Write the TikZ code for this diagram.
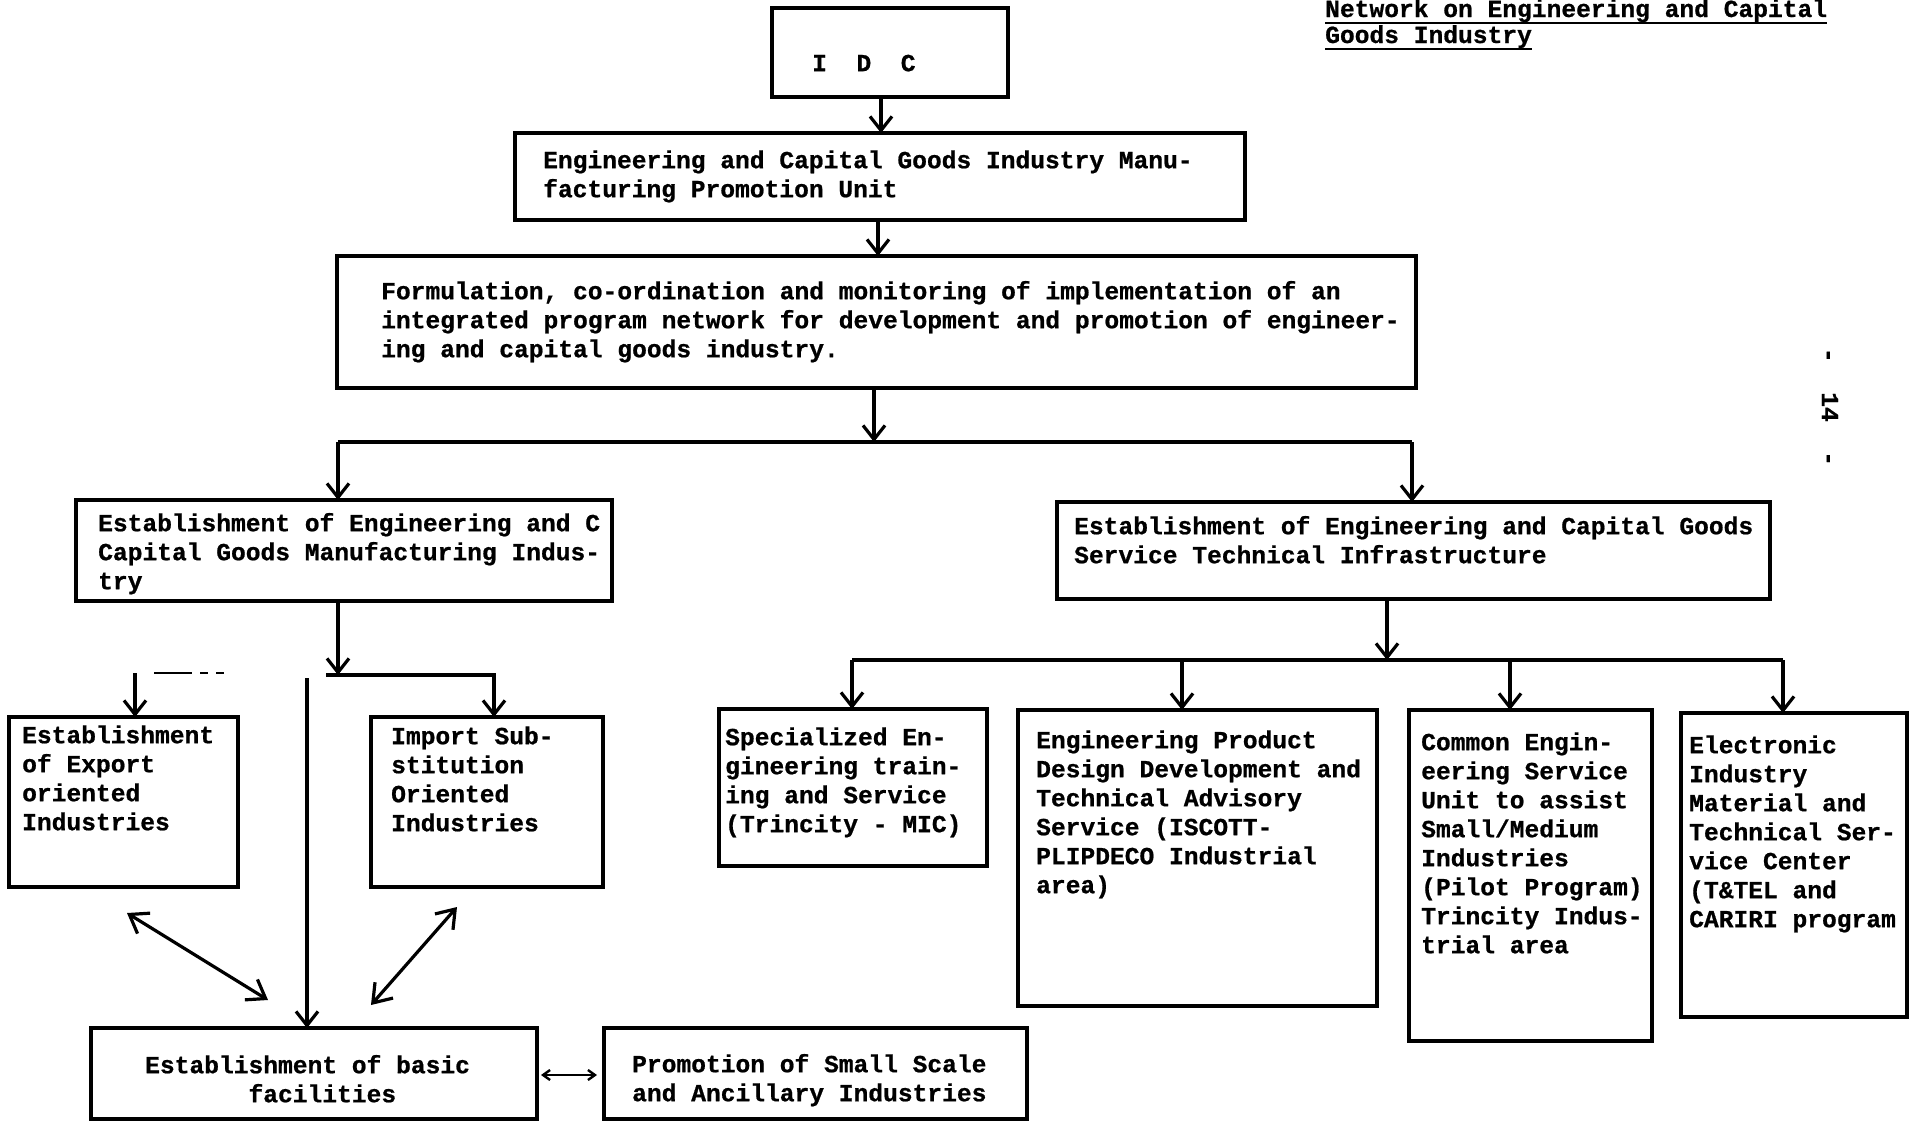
\documentclass[tikz,border=0pt]{standalone}
\usepackage{fontspec}
\setmonofont{Liberation Mono}[BoldFeatures={FakeBold=0.8}]
\usetikzlibrary{arrows.meta}
\newcommand\tffont{\fontsize{24.6pt}{29pt}\selectfont\ttfamily\bfseries}
\tikzset{
  boxst/.style={draw, line width=4.2pt, inner sep=0pt, outer sep=0pt, anchor=north west},
  txt/.style={inner sep=0pt, anchor=north west, align=left, font=\tffont},
  conn/.style={line width=3.2pt},
  arr/.style={conn, -{Straight Barb[length=14pt,width=22pt]}},
  darr/.style={conn, {Straight Barb[length=17pt,width=24pt]}-{Straight Barb[length=17pt,width=24pt]}},
  sarr/.style={line width=2.4pt, {Straight Barb[length=7pt,width=10pt]}-{Straight Barb[length=7pt,width=10pt]}},
}
\newcommand\mkbox[5]{\node[boxst, minimum width={#4-#2}, minimum height={#5-#3}] (#1) at (#2,#3) {};}
\newcommand\mktext[4]{\node[txt] (#1) at (#2,{#3-20.3}) {\strut #4};}
\begin{document}
\begin{tikzpicture}[x=1pt,y=-1pt]
\useasboundingbox (0,0) rectangle (1914,1122);
% boxes
\mkbox{idc}{772}{8}{1008}{97}
\mkbox{unit}{515}{133}{1245}{220}
\mkbox{form}{337}{256}{1416}{388}
\mkbox{lest}{76}{500}{612}{601}
\mkbox{rest}{1057}{502}{1770}{599}
\mkbox{exp}{9}{717}{238}{887}
\mkbox{imp}{371}{717}{603}{887}
\mkbox{basic}{91}{1028}{537}{1119}
\mkbox{promo}{604}{1028}{1027}{1119}
\mkbox{spec}{719}{709}{987}{866}
\mkbox{prod}{1018}{710}{1377}{1006}
\mkbox{common}{1409}{710}{1652}{1041}
\mkbox{elec}{1681}{713}{1907}{1017}
% texts
\mktext{tidc}{812}{71}{I\ \ D\ \ C}
\mktext{tunit}{543}{168}{Engineering and Capital Goods Industry Manu-\\facturing Promotion Unit}
\mktext{tform}{381}{299}{Formulation, co-ordination and monitoring of implementation of an\\integrated program network for development and promotion of engineer-\\ing and capital goods industry.}
\mktext{tlest}{98}{531}{Establishment of Engineering and C\\Capital Goods Manufacturing Indus-\\try}
\mktext{trest}{1074}{534}{Establishment of Engineering and Capital Goods\\Service Technical Infrastructure}
\mktext{texp}{22}{743}{Establishment\\of Export\\oriented\\Industries}
\mktext{timp}{391}{744}{Import Sub-\\stitution\\Oriented\\Industries}
\mktext{tspec}{725}{745}{Specialized En-\\gineering train-\\ing and Service\\(Trincity - MIC)}
\mktext{tprod}{1036}{748}{Engineering Product\\Design Development and\\Technical Advisory\\Service (ISCOTT-\\PLIPDECO Industrial\\area)}
\mktext{tcommon}{1421}{750}{Common Engin-\\eering Service\\Unit to assist\\Small/Medium\\Industries\\(Pilot Program)\\Trincity Indus-\\trial area}
\mktext{telec}{1689}{753}{Electronic\\Industry\\Material and\\Technical Ser-\\vice Center\\(T\&TEL and\\CARIRI program}
\mktext{tbasic}{145}{1073}{Establishment of basic\\\hphantom{0000000}facilities}
\mktext{tpromo}{632}{1072}{Promotion of Small Scale\\and Ancillary Industries}
% title
\node[inner sep=0pt, anchor=base west, font=\tffont] (ttl1) at (1325,17) {Network on Engineering and Capital};
\node[inner sep=0pt, anchor=base west, font=\tffont] (ttl2) at (1325,43) {Goods Industry};
\draw[line width=2.6pt] ([yshift=-6pt]ttl1.base west) -- ([yshift=-6pt]ttl1.base east);
\draw[line width=2.6pt] ([yshift=-6pt]ttl2.base west) -- ([yshift=-6pt]ttl2.base east);
% page number
\node[inner sep=0pt, rotate=-90, font=\tffont] (pg) at (1830,407) {-\ \ 14\ \ -};
% top chain
\coordinate (a1) at (881,0);
\coordinate (a2) at (878,0);
\draw[arr] (a1 |- idc.south) -- (a1 |- unit.north);
\draw[arr] (a2 |- unit.south) -- (a2 |- form.north);
\coordinate (bus1) at (874,442);
\coordinate (bl) at (338,442);
\coordinate (br) at (1412,442);
\draw[arr] (bus1 |- form.south) -- (bus1);
\draw[conn] (bl) -- (br);
\draw[arr] (bl) -- (bl |- lest.north);
\draw[arr] (br) -- (br |- rest.north);
% left cluster
\coordinate (lsplit) at (338,675);
\coordinate (lh1) at (326,675);
\coordinate (lh2) at (494,675);
\coordinate (eh) at (135,673);
\coordinate (ed1) at (154,673);
\coordinate (ed2) at (225,673);
\coordinate (lv) at (307,678);
\draw[arr] (lsplit |- lest.south) -- (lsplit);
\draw[arr] (lh1) -- (lh2) -- (lh2 |- imp.north);
\draw[arr] (eh) -- (eh |- exp.north);
\draw[line width=2.2pt, dash pattern=on 38pt off 8pt on 8pt off 8pt on 8pt] (ed1) -- (ed2);
\draw[arr] (lv) -- (lv |- basic.north);
\coordinate (d1a) at (127,913);
\coordinate (d1b) at (268,1000);
\coordinate (d2a) at (457,907);
\coordinate (d2b) at (371,1005);
\draw[darr] (d1a) -- (d1b);
\draw[darr] (d2a) -- (d2b);
\coordinate (bp) at (0,1075);
\draw[sarr, shorten <=4pt, shorten >=7pt] (basic.east |- bp) -- (promo.west |- bp);
% right cluster
\coordinate (bus2) at (1387,660);
\coordinate (r1) at (852,660);
\coordinate (r2) at (1182,660);
\coordinate (r3) at (1510,660);
\coordinate (r4) at (1783,660);
\draw[arr] (bus2 |- rest.south) -- (bus2);
\draw[conn] (r1) -- (r4);
\draw[arr] (r1) -- (r1 |- spec.north);
\draw[arr] (r2) -- (r2 |- prod.north);
\draw[arr] (r3) -- (r3 |- common.north);
\draw[arr] (r4) -- (r4 |- elec.north);
\end{tikzpicture}
\end{document}
